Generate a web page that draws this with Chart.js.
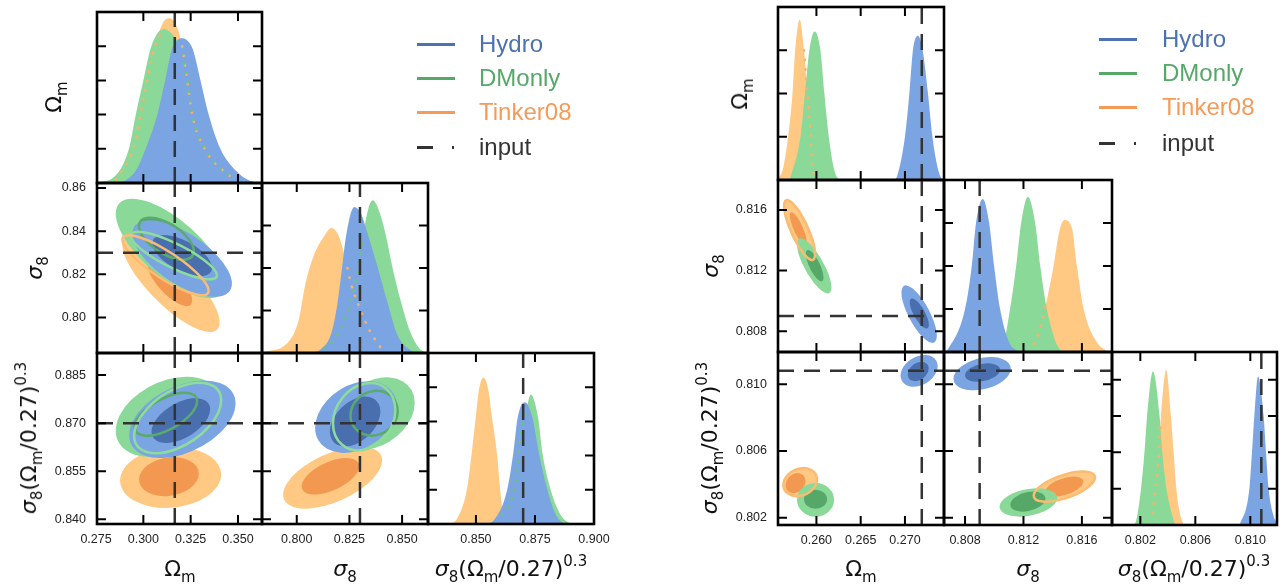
<!DOCTYPE html>
<html>
<head>
<meta charset="utf-8">
<script src="https://cdn.jsdelivr.net/npm/chart.js@4.4.1/dist/chart.umd.min.js"></script>
<style>
body{margin:0;background:#fff;width:1283px;height:587px;overflow:hidden;position:relative;font-family:"Liberation Sans",Arial,sans-serif}
#stage{position:absolute;left:0;top:0;width:1283px;height:587px}
canvas{position:absolute}
.t{position:absolute;font-family:"DejaVu Sans",sans-serif;font-size:22px;line-height:26px;color:#111;white-space:nowrap;transform:translate(-50%,-50%)}
.t.rot{transform:translate(-50%,-50%) rotate(-90deg)}
.t sub{font-size:15px;vertical-align:-6px;line-height:0}
.t sup{font-size:15px;vertical-align:10px;line-height:0}
.t i{font-style:oblique}
.lgl{position:absolute;height:3px}
.lgt{position:absolute;font-size:24px;line-height:24px;white-space:nowrap}
</style>
</head>
<body>
<div id="stage"></div>
<script>
// ================= left figure =================
// tick labels
const L_omTicks = ['0.275','0.300','0.325','0.350'];
const L_s8xTicks = ['0.800','0.825','0.850'];
const L_S8xTicks = ['0.850','0.875','0.900'];
const L_s8yTicks = ['0.80','0.82','0.84','0.86'];
const L_S8yTicks = ['0.840','0.855','0.870','0.885'];
const L_pdfTicks = [['0.2','0.4','0.6','0.8'], ['0.25','0.5','0.75'], ['0.2','0.4','0.6','0.8']];
// input values: Omega_m, sigma_8, sigma_8 (Omega_m/0.27)^0.3
const L_input = [0.3166, 0.830, 0.870];

// 1D marginals [x, height]
const L_om_or = [[0.2800,0],[0.2855,0.02],[0.2947,0.2],[0.2985,0.4],[0.3020,0.6],[0.3060,0.8],[0.3105,0.94],[0.3135,0.963],[0.3175,0.92],[0.3205,0.80],[0.3232,0.6],[0.3258,0.4],[0.3324,0.2],[0.3477,0.02],[0.3520,0]];
const L_om_gr = [[0.2756,0.003],[0.2840,0.03],[0.2924,0.2],[0.2960,0.4],[0.3000,0.6],[0.3042,0.8],[0.3109,0.90],[0.3160,0.86],[0.3200,0.78],[0.3232,0.6],[0.3258,0.4],[0.3324,0.2],[0.3477,0.02],[0.3520,0]];
const L_om_bl = [[0.2870,0],[0.2913,0.02],[0.2965,0.08],[0.3012,0.2],[0.3074,0.4],[0.3115,0.6],[0.3150,0.78],[0.3175,0.83],[0.3205,0.846],[0.3235,0.83],[0.3262,0.78],[0.3302,0.6],[0.3345,0.4],[0.3407,0.2],[0.3500,0.06],[0.3560,0.015],[0.3620,0]];
const L_s8_or = [[0.7836,0.005],[0.7952,0.055],[0.8008,0.19],[0.8040,0.40],[0.8080,0.57],[0.8137,0.70],[0.8164,0.735],[0.8195,0.70],[0.8217,0.62],[0.8241,0.5],[0.8257,0.41],[0.8300,0.26],[0.8347,0.13],[0.8396,0.035],[0.8450,0]];
const L_s8_gr = [[0.8080,0],[0.8112,0.01],[0.8200,0.12],[0.8239,0.23],[0.8275,0.4],[0.8297,0.55],[0.8313,0.68],[0.8340,0.85],[0.8361,0.898],[0.8395,0.82],[0.8425,0.68],[0.8455,0.5],[0.8495,0.3],[0.8540,0.12],[0.8580,0.03],[0.8620,0]];
const L_s8_bl = [[0.8060,0],[0.8113,0.02],[0.8165,0.12],[0.8193,0.29],[0.8215,0.5],[0.8233,0.68],[0.8273,0.859],[0.8305,0.82],[0.8337,0.70],[0.8385,0.5],[0.8430,0.3],[0.8480,0.1],[0.8550,0.01],[0.8580,0]];
const L_S8_or = [[0.8397,0],[0.8420,0.03],[0.8461,0.197],[0.8482,0.413],[0.8499,0.624],[0.8513,0.787],[0.8532,0.856],[0.8552,0.787],[0.8568,0.624],[0.8589,0.413],[0.8603,0.197],[0.8617,0.04],[0.8640,0]];
const L_S8_gr = [[0.8580,0],[0.8617,0.07],[0.8650,0.14],[0.8675,0.32],[0.8689,0.51],[0.8717,0.69],[0.8732,0.758],[0.8763,0.624],[0.8782,0.413],[0.8817,0.197],[0.8860,0.05],[0.8902,0]];
const L_S8_bl = [[0.8550,0],[0.8575,0.02],[0.8632,0.197],[0.8658,0.413],[0.8677,0.624],[0.8707,0.712],[0.8739,0.624],[0.8767,0.413],[0.8803,0.197],[0.8840,0.05],[0.8874,0]];
// hidden edges shown as dotted lines (orange, green)
const L_om_dotOr = [[[0.2855,0.02],[0.2947,0.2],[0.2985,0.4],[0.3020,0.6],[0.3060,0.8],[0.3094,0.88]], [[0.3205,0.80],[0.3232,0.6],[0.3258,0.4],[0.3324,0.2],[0.3477,0.02]]];
const L_om_dotGr = [[[0.3200,0.78],[0.3232,0.6],[0.3258,0.4],[0.3324,0.2],[0.3477,0.02]]];
const L_s8_dotOr = [[[0.8241,0.5],[0.8257,0.41],[0.8300,0.26],[0.8347,0.13],[0.8396,0.035]]];
const L_s8_dotGr = [[[0.8112,0.01],[0.8200,0.12],[0.8239,0.23],[0.8275,0.4],[0.8297,0.55],[0.8313,0.68]]];
const L_S8_dotOr = [];
const L_S8_dotGr = [[[0.8600,0.03],[0.8617,0.07],[0.8650,0.14],[0.8675,0.32],[0.8689,0.51],[0.8717,0.69]]];

// 2D contours [centre x, centre y, half width x, half width y, correlation]; outer (95%) then inner (68%)
const L_om_s8_or = [[0.3146,0.8157,0.0257,0.0224,-0.80],[0.3141,0.8160,0.0117,0.0107,-0.75]];
const L_om_s8_gr = [[0.3144,0.8320,0.0290,0.0230,-0.70],[0.3122,0.8365,0.0145,0.0097,-0.60]];
const L_om_s8_bl = [[0.3205,0.8273,0.0263,0.0177,-0.65],[0.3205,0.8287,0.0158,0.0095,-0.60]];
const L_om_s8_ln = [[0.3122,0.8365,0.0145,0.0097,-0.60],[0.3161,0.8287,0.0228,0.0110,-0.83],[0.3117,0.8242,0.0228,0.0139,-0.85]];
const L_om_S8_or = [[0.3144,0.8530,0.0267,0.0095,0.10],[0.3135,0.8533,0.0158,0.0061,0.15]];
const L_om_S8_gr = [[0.3130,0.8720,0.0276,0.0125,0.35],[0.3119,0.8728,0.0165,0.0067,0.60]];
const L_om_S8_bl = [[0.3206,0.8712,0.0281,0.0121,0.41],[0.3198,0.8708,0.0155,0.0070,0.50]];
const L_om_S8_ln = [[0.3119,0.8728,0.0165,0.0067,0.60],[0.3181,0.8716,0.0230,0.0110,0.50],null];
const L_s8_S8_or = [[0.8170,0.8530,0.0235,0.0097,0.55],[0.8160,0.8534,0.0137,0.0057,0.55]];
const L_s8_S8_gr = [[0.8370,0.8730,0.0190,0.0113,0.30],[0.8367,0.8731,0.0112,0.0070,0.10]];
const L_s8_S8_bl = [[0.8281,0.8719,0.0194,0.0112,0.30],[0.8277,0.8705,0.0120,0.0078,0.40]];
const L_s8_S8_ln = [[0.8367,0.8731,0.0112,0.0070,0.10],[0.8320,0.8720,0.0148,0.0105,0.20],null];

// ================= right figure =================
const R_omTicks = ['0.260','0.265','0.270'];
const R_s8xTicks = ['0.808','0.812','0.816'];
const R_S8xTicks = ['0.802','0.806','0.810'];
const R_s8yTicks = ['0.808','0.812','0.816'];
const R_S8yTicks = ['0.802','0.806','0.810'];
const R_pdfTicks = [['0.25','0.5','0.75'], ['0.25','0.5','0.75'], ['0.21','0.42','0.63','0.84']];
const R_input = [0.2719, 0.809, 0.8108];

const R_om_or = [[0.2556,0.005],[0.2562,0.06],[0.2568,0.25],[0.2573,0.5],[0.2576,0.75],[0.2581,0.926],[0.2586,0.75],[0.2590,0.48],[0.2593,0.30],[0.2595,0.11],[0.2598,0]];
const R_om_gr = [[0.2570,0],[0.2582,0.25],[0.2587,0.5],[0.2592,0.75],[0.2598,0.859],[0.26045,0.75],[0.2609,0.5],[0.2614,0.25],[0.2620,0.06],[0.2625,0]];
const R_om_bl = [[0.2688,0],[0.2691,0.02],[0.2700,0.25],[0.2705,0.5],[0.2709,0.75],[0.27147,0.834],[0.2720,0.75],[0.2726,0.5],[0.2731,0.25],[0.2738,0.05],[0.2742,0]];
const R_s8_or = [[0.8122,0],[0.81258,0.03],[0.81292,0.08],[0.81349,0.26],[0.81406,0.5],[0.81445,0.70],[0.81481,0.767],[0.81532,0.72],[0.81566,0.5],[0.81612,0.25],[0.8170,0.06],[0.81783,0]];
const R_s8_gr = [[0.8098,0],[0.81052,0.02],[0.81108,0.25],[0.8115,0.5],[0.81184,0.75],[0.8123,0.903],[0.8128,0.75],[0.81315,0.5],[0.8136,0.25],[0.8142,0.06],[0.81463,0]];
const R_s8_bl = [[0.8066,0],[0.80686,0.02],[0.8080,0.25],[0.80846,0.5],[0.80875,0.75],[0.80921,0.889],[0.80965,0.75],[0.80999,0.5],[0.8104,0.25],[0.8110,0.06],[0.81166,0]];
const R_S8_or = [[0.8026,0],[0.80285,0.053],[0.80297,0.122],[0.80309,0.2],[0.80326,0.318],[0.80338,0.426],[0.80345,0.564],[0.80362,0.75],[0.80387,0.897],[0.80423,0.63],[0.80442,0.42],[0.80462,0.21],[0.8049,0.06],[0.80515,0]];
const R_S8_gr = [[0.8014,0],[0.80163,0.01],[0.80205,0.21],[0.8023,0.42],[0.80249,0.63],[0.80292,0.888],[0.8034,0.63],[0.8036,0.42],[0.8039,0.21],[0.8045,0]];
const R_S8_bl = [[0.8092,0],[0.80927,0.01],[0.80993,0.21],[0.81012,0.42],[0.81029,0.63],[0.81056,0.859],[0.81097,0.63],[0.81114,0.42],[0.81133,0.21],[0.8117,0.05],[0.81194,0.01]];
const R_om_dotOr = [[[0.2586,0.75],[0.2590,0.48],[0.2593,0.30],[0.2595,0.11],[0.2597,0.02]]];
const R_om_dotGr = [];
const R_s8_dotOr = [[[0.81349,0.26],[0.81333,0.20],[0.81315,0.146],[0.81292,0.08],[0.81258,0.03]]];
const R_s8_dotGr = [];
const R_S8_dotOr = [[[0.80345,0.564],[0.80338,0.426],[0.80326,0.318],[0.80309,0.2],[0.80297,0.122],[0.80285,0.053]]];
const R_S8_dotGr = [];

const R_om_s8_or = [[0.25810,0.81468,0.00175,0.00198,-0.80],[0.25795,0.81477,0.00095,0.00108,-0.80]];
const R_om_s8_gr = [[0.25975,0.81231,0.00195,0.00182,-0.78],[0.25980,0.81233,0.00100,0.00103,-0.75]];
const R_om_s8_bl = [[0.27160,0.80913,0.00200,0.00190,-0.75],[0.27162,0.80917,0.00108,0.00099,-0.75]];
const R_om_s8_ln = [null,null,[0.25810,0.81468,0.00175,0.00198,-0.80]];
const R_om_S8_or = [[0.25817,0.80413,0.00190,0.00084,0.20],[0.25764,0.80407,0.00112,0.00060,0.20]];
const R_om_S8_gr = [[0.25990,0.80307,0.00210,0.00101,0.00],[0.25990,0.80310,0.00130,0.00057,0.00]];
const R_om_S8_bl = [[0.27160,0.81080,0.00210,0.00095,0.30],[0.27150,0.81076,0.00118,0.00058,0.30]];
const R_om_S8_ln = [null,null,[0.25817,0.80413,0.00190,0.00084,0.20]];
const R_s8_S8_or = [[0.81480,0.80386,0.00210,0.00090,0.60],[0.81480,0.80386,0.00130,0.00060,0.50]];
const R_s8_S8_gr = [[0.81233,0.80291,0.00197,0.00085,0.30],[0.81230,0.80296,0.00120,0.00060,0.30]];
const R_s8_S8_bl = [[0.80917,0.81063,0.00196,0.00100,0.30],[0.80920,0.81070,0.00120,0.00055,0.30]];
const R_s8_S8_ln = [null,null,[0.81480,0.80386,0.00210,0.00090,0.60]];

const LEG_NAMES = ['Hydro','DMonly','Tinker08','input'];

// ---------------- styles / layout ----------------
const COL = {
  blL:'#7ba4e2', blD:'#4a6fae', grL:'#8ad999', grD:'#56a869', orL:'#ffc983', orD:'#f39851',
  ringDG:'#5aab6b', ringLG:'#8edc9c', ringOr:'#fbbb72', dotOr:'#f8b26a', dotGr:'#6ec27f', inp:'#333'
};
const LEG_COL = ['#4c72b0','#55a868','#f59b5a','#333'];
const LC = [97, 262, 428, 594], LR = [12, 183, 353, 524];
const RC = [778, 944, 1112, 1277], RR = [7, 180, 352, 525];
const M = 30, YW = 60, XH = 30;
Chart.defaults.font.family = '"Liberation Sans", Arial, sans-serif';

const stage = document.getElementById('stage');
const P = a => a.map(([x, y]) => ({x, y}));
const fillDs = (pts, c) => ({data:P(pts), showLine:true, fill:'origin', backgroundColor:c, borderColor:'transparent', borderWidth:0, pointRadius:0, cubicInterpolationMode:'monotone'});
const dotDs = (pts, c, off) => ({data:P(pts), showLine:true, fill:false, borderColor:c, borderWidth:2.6, borderDash:[0.5, 9], borderDashOffset:off, borderCapStyle:'round', pointRadius:0, cubicInterpolationMode:'monotone'});
const vline = (v, yr) => ({data:[{x:v, y:yr[0]}, {x:v, y:yr[1]}], showLine:true, fill:false, borderColor:COL.inp, borderWidth:2.5, borderDash:[16, 10], pointRadius:0});
const hline = (v, xr) => ({data:[{x:xr[0], y:v}, {x:xr[1], y:v}], showLine:true, fill:false, borderColor:COL.inp, borderWidth:2.5, borderDash:[16, 10], pointRadius:0});

function contourPlugin(items){
  return {id:'contours', beforeDatasetsDraw(chart){
    const {ctx, chartArea:a, scales:{x, y}} = chart;
    ctx.save();
    ctx.beginPath(); ctx.rect(a.left, a.top, a.width, a.height); ctx.clip();
    items.forEach(it => {
      const [cx, cy, dx, dy, r] = it.e;
      const px = x.getPixelForValue(cx), py = y.getPixelForValue(cy);
      const sx = x.getPixelForValue(cx + dx) - px, sy = y.getPixelForValue(cy + dy) - py;
      ctx.save();
      ctx.transform(sx, sy * r, 0, sy * Math.sqrt(1 - r * r), px, py);
      ctx.beginPath(); ctx.arc(0, 0, 1, 0, 2 * Math.PI);
      ctx.restore();
      if (it.fill) { ctx.fillStyle = it.fill; ctx.fill(); }
      if (it.line) { ctx.strokeStyle = it.line; ctx.lineWidth = 2.5; ctx.stroke(); }
    });
    ctx.restore();
  }};
}

// box frame with inward ticks on all four sides
function framePlugin(xt, yt){
  return {id:'frame', afterDraw(chart){
    const {ctx, chartArea:a, scales:{x, y}} = chart;
    ctx.save();
    ctx.strokeStyle = '#000'; ctx.lineWidth = 2; ctx.beginPath();
    xt.forEach(t => {
      const p = x.getPixelForValue(+t);
      if (p < a.left + 2 || p > a.right - 2) return;
      ctx.moveTo(p, a.top); ctx.lineTo(p, a.top + 9);
      ctx.moveTo(p, a.bottom); ctx.lineTo(p, a.bottom - 9);
    });
    yt.forEach(t => {
      const p = y.getPixelForValue(+t);
      if (p < a.top + 2 || p > a.bottom - 2) return;
      ctx.moveTo(a.left, p); ctx.lineTo(a.left + 9, p);
      ctx.moveTo(a.right, p); ctx.lineTo(a.right - 9, p);
    });
    ctx.stroke();
    ctx.lineWidth = 2.6; ctx.strokeRect(a.left, a.top, a.width, a.height);
    ctx.restore();
  }};
}

function axisCfg(range, ticks, show, isX){
  const c = {type:'linear', min:range[0], max:range[1], display:show,
    grid:{display:false, drawTicks:false}, border:{display:false},
    ticks:{padding:isX ? 8 : 11, color:'#222', font:{size:12.5}, maxRotation:0, autoSkip:false,
      callback:(v, i) => ticks[i]},
    afterBuildTicks:s => { s.ticks = ticks.map(t => ({value:+t})); }};
  if (show) c.afterFit = s => { if (isX) s.height = XH; else s.width = YW; };
  return c;
}

function addPanel(box, xr, yr, xt, yt, xLab, yLab, datasets, contours){
  const [l, t, r, b] = box;
  const padL = yLab ? YW : M, padB = xLab ? XH : M;
  const w = r - l + padL + M, h = b - t + M + padB;
  const cv = document.createElement('canvas');
  cv.width = w; cv.height = h;
  cv.style.cssText = `left:${l - padL}px;top:${t - M}px;width:${w}px;height:${h}px`;
  stage.appendChild(cv);
  new Chart(cv, {
    type:'scatter',
    data:{datasets:datasets.slice().reverse()},   // first dataset is drawn on top
    options:{responsive:false, animation:false, events:[],
      layout:{padding:{left:yLab ? 0 : M, right:M, top:M, bottom:xLab ? 0 : M}},
      plugins:{legend:{display:false}, tooltip:{enabled:false}},
      scales:{x:axisCfg(xr, xt, xLab, true), y:axisCfg(yr, yt, yLab, false)}},
    plugins:[contourPlugin(contours || []), framePlugin(xt, yt)]
  });
}

function pdfSets(curves, dotsOr, dotsGr){
  const out = [fillDs(curves[0], COL.orL), fillDs(curves[1], COL.grL), fillDs(curves[2], COL.blL)];
  dotsOr.forEach(s => out.push(dotDs(s, COL.dotOr, 0)));
  dotsGr.forEach(s => out.push(dotDs(s, COL.dotGr, 5)));
  return out;
}

function contourItems(or, gr, bl, ln){
  const items = [
    {e:or[0], fill:COL.orL}, {e:or[1], fill:COL.orD},
    {e:gr[0], fill:COL.grL}, {e:gr[1], fill:COL.grD},
    {e:bl[0], fill:COL.blL}, {e:bl[1], fill:COL.blD}];
  const lc = [COL.ringDG, COL.ringLG, COL.ringOr];
  ln.forEach((e, i) => { if (e) items.push({e, line:lc[i]}); });
  return items;
}

function corner(C, R, d){
  const pdf = [0, 1];
  for (let k = 0; k < 3; k++) {
    addPanel([C[k], R[k], C[k + 1], R[k + 1]], d.xr[k], pdf, d.xt[k], d.pdfT[k], k === 2, false,
      pdfSets(d.pdf[k], d.dotOr[k], d.dotGr[k]).concat([vline(d.inp[k], pdf)]));
  }
  addPanel([C[0], R[1], C[1], R[2]], d.xr[0], d.yr[0], d.xt[0], d.yt[0], false, true,
    [vline(d.inp[0], d.yr[0]), hline(d.inp[1], d.xr[0])], d.cont[0]);
  addPanel([C[0], R[2], C[1], R[3]], d.xr[0], d.yr[1], d.xt[0], d.yt[1], true, true,
    [vline(d.inp[0], d.yr[1]), hline(d.inp[2], d.xr[0])], d.cont[1]);
  addPanel([C[1], R[2], C[2], R[3]], d.xr[1], d.yr[1], d.xt[1], d.yt[1], true, false,
    [vline(d.inp[1], d.yr[1]), hline(d.inp[2], d.xr[1])], d.cont[2]);
}

corner(LC, LR, {
  xr:[[0.2755, 0.3627], [0.7835, 0.8623], [0.8297, 0.9000]],
  yr:[[0.7836, 0.8623], [0.8385, 0.8919]],
  xt:[L_omTicks, L_s8xTicks, L_S8xTicks], yt:[L_s8yTicks, L_S8yTicks], pdfT:L_pdfTicks, inp:L_input,
  pdf:[[L_om_or, L_om_gr, L_om_bl], [L_s8_or, L_s8_gr, L_s8_bl], [L_S8_or, L_S8_gr, L_S8_bl]],
  dotOr:[L_om_dotOr, L_s8_dotOr, L_S8_dotOr], dotGr:[L_om_dotGr, L_s8_dotGr, L_S8_dotGr],
  cont:[contourItems(L_om_s8_or, L_om_s8_gr, L_om_s8_bl, L_om_s8_ln),
        contourItems(L_om_S8_or, L_om_S8_gr, L_om_S8_bl, L_om_S8_ln),
        contourItems(L_s8_S8_or, L_s8_S8_gr, L_s8_S8_bl, L_s8_S8_ln)]
});
corner(RC, RR, {
  xr:[[0.25566, 0.27441], [0.80656, 0.81806], [0.79994, 0.81194]],
  yr:[[0.80663, 0.81798], [0.80156, 0.81193]],
  xt:[R_omTicks, R_s8xTicks, R_S8xTicks], yt:[R_s8yTicks, R_S8yTicks], pdfT:R_pdfTicks, inp:R_input,
  pdf:[[R_om_or, R_om_gr, R_om_bl], [R_s8_or, R_s8_gr, R_s8_bl], [R_S8_or, R_S8_gr, R_S8_bl]],
  dotOr:[R_om_dotOr, R_s8_dotOr, R_S8_dotOr], dotGr:[R_om_dotGr, R_s8_dotGr, R_S8_dotGr],
  cont:[contourItems(R_om_s8_or, R_om_s8_gr, R_om_s8_bl, R_om_s8_ln),
        contourItems(R_om_S8_or, R_om_S8_gr, R_om_S8_bl, R_om_S8_ln),
        contourItems(R_s8_S8_or, R_s8_S8_gr, R_s8_S8_bl, R_s8_S8_ln)]
});

// ---------------- axis titles ----------------
const OM = 'Ω<sub>m</sub>', SIG = '<i>σ</i><sub>8</sub>', S8 = '<i>σ</i><sub>8</sub>(Ω<sub>m</sub>/0.27)<sup>0.3</sup>';
function title(html, x, y, rot){
  const d = document.createElement('div');
  d.className = 't' + (rot ? ' rot' : '');
  d.innerHTML = html; d.style.left = x + 'px'; d.style.top = y + 'px';
  stage.appendChild(d);
}
[[OM, 54, 97], [SIG, 35, 268], [S8, 29, 438], [OM, 740, 94], [SIG, 711, 266], [S8, 710, 438]].forEach(a => title(a[0], a[1], a[2], true));
[[OM, 180, 569], [SIG, 345, 569], [S8, 511, 569], [OM, 861, 569], [SIG, 1028, 569], [S8, 1194, 569]].forEach(a => title(a[0], a[1], a[2], false));

// ---------------- legends ----------------
function legend(x0, tx, ys){
  LEG_NAMES.forEach((n, i) => {
    const ln = document.createElement('div');
    ln.className = 'lgl';
    ln.style.left = x0 + 'px'; ln.style.top = (ys[i] - 1.5) + 'px'; ln.style.width = '38px';
    ln.style.background = i < 3 ? LEG_COL[i] : 'linear-gradient(90deg,#333 0 16px,transparent 16px 35px,#333 35px 37px,transparent 37px)';
    stage.appendChild(ln);
    const tx_ = document.createElement('div');
    tx_.className = 'lgt'; tx_.textContent = n; tx_.style.color = LEG_COL[i];
    tx_.style.left = tx + 'px'; tx_.style.top = (ys[i] - 12) + 'px';
    stage.appendChild(tx_);
  });
}
legend(417, 479, [44, 78, 112, 147]);
legend(1099, 1162, [39, 73, 107, 143]);
</script>
</body>
</html>
